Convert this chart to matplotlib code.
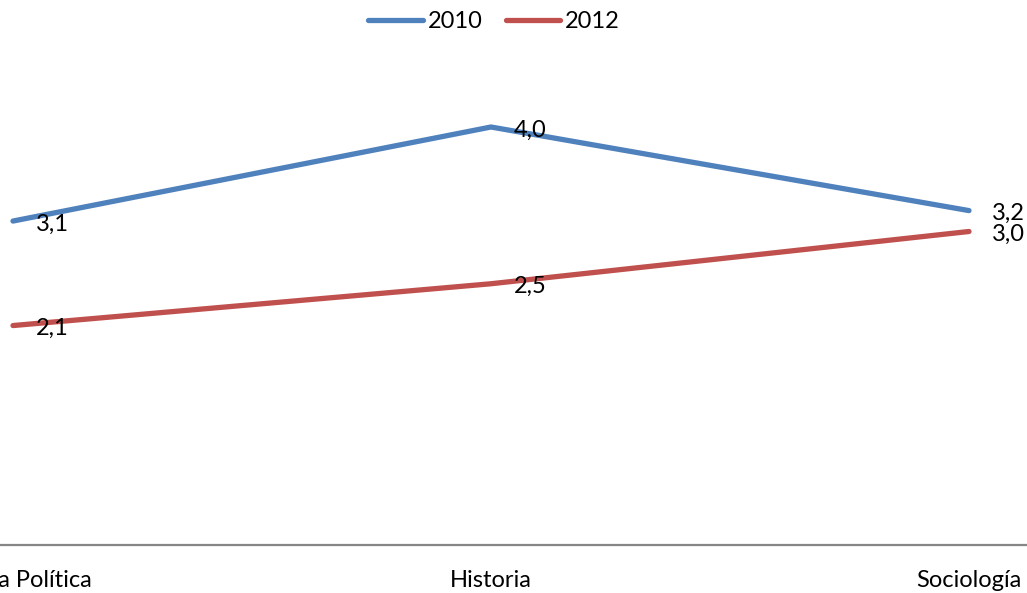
import matplotlib
matplotlib.use("Agg")
import matplotlib.pyplot as plt

categories = ["Ciencia Política", "Historia", "Sociología"]
series_names = ["2010", "2012"]
values_2010 = [3.1, 4.0, 3.2]
values_2012 = [2.1, 2.5, 3.0]
colors = ["#4F81BD", "#C0504D"]

plt.rcParams['font.family'] = ['Lato', 'DejaVu Sans']
FS = 17

fig = plt.figure(figsize=(10.27, 5.93), dpi=100)
H = 593.0
ax = fig.add_axes([0, 48 / H, 1, (545 - 74.75) / H])

x = list(range(len(categories)))
for vals, name, col in zip([values_2010, values_2012], series_names, colors):
    ax.plot(x, vals, color=col, lw=3.8, solid_capstyle='round', label=name)

for vals in [values_2010, values_2012]:
    for xi, v in zip(x, vals):
        ax.annotate(f"{v:.1f}".replace(".", ","), (xi, v), xytext=(23, -3),
                    textcoords='offset pixels', ha='left', va='center',
                    fontsize=FS, color='black', annotation_clip=False)

ax.set_xlim(-13 / 478, (1027 - 13) / 478)
ax.set_ylim(0, 4.5)
ax.set_xticks(x)
ax.set_xticklabels(categories, fontsize=FS)
ax.tick_params(axis='x', length=0, pad=18)
ax.set_yticks([])
for s in ['top', 'right', 'left']:
    ax.spines[s].set_visible(False)
ax.spines['bottom'].set_color('#868686')
ax.spines['bottom'].set_linewidth(1.6)

fig.legend(loc='center', bbox_to_anchor=(494 / 1027, 1 - 22 / H), ncol=2,
           frameon=False, fontsize=FS, handlelength=2.3, handletextpad=0.2,
           columnspacing=1.0)

fig.savefig("out.png", dpi=100)
